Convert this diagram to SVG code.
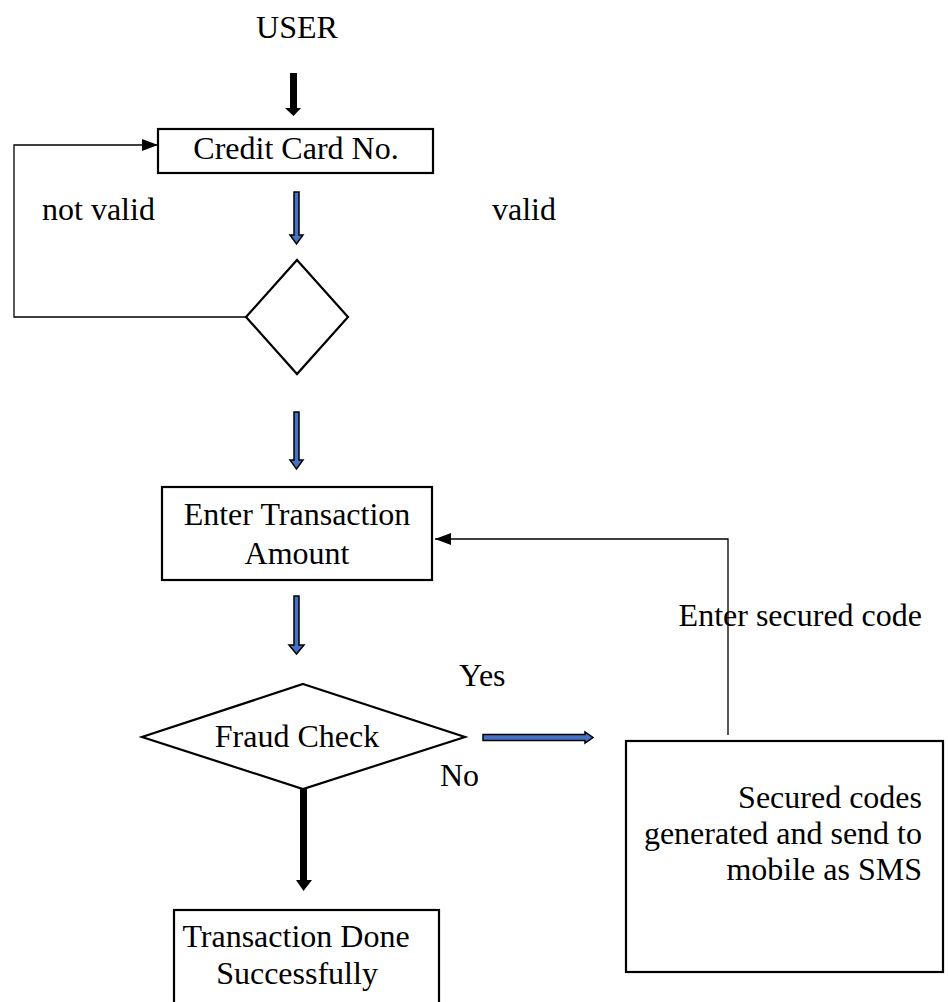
<svg xmlns="http://www.w3.org/2000/svg" width="948" height="1002" viewBox="0 0 948 1002">
<defs>
<style>
text{font-family:"Liberation Serif","Times New Roman",serif;font-size:32px;fill:#000}
.c{text-anchor:middle}
.r{text-anchor:end}
.box{fill:#fff;stroke:#000;stroke-width:2.2}
.thin{fill:none;stroke:#000;stroke-width:1.3}
.blue{fill:#4472C4;stroke:#000;stroke-width:1.5;stroke-linejoin:miter}
.blk{fill:#000}
</style>
<marker id="ah" markerUnits="userSpaceOnUse" markerWidth="16" markerHeight="12" refX="16" refY="6" orient="auto">
<path d="M0,0 L16,6 L0,12 Z" fill="#000"/>
</marker>
</defs>
<rect width="948" height="1002" fill="#fff"/>

<g id="user"><text class="c" x="297" y="38">USER</text></g>

<g id="credit-card">
<rect class="box" x="158" y="129" width="275" height="44"/>
<text class="c" x="296" y="159">Credit Card No.</text>
</g>

<g id="valid-check">
<polygon class="box" points="297,260 348,317 297,374 246,317"/>
</g>

<g id="enter-amount">
<rect class="box" x="162" y="487" width="270" height="93"/>
<text class="c" x="297" y="525">Enter Transaction</text>
<text class="c" x="297" y="564">Amount</text>
</g>

<g id="fraud-check">
<polygon class="box" points="303,684 465,737 303,789 142,737"/>
<text class="c" x="297" y="747">Fraud Check</text>
</g>

<g id="done">
<rect class="box" x="174" y="910" width="265" height="110"/>
<text class="c" x="296" y="947">Transaction Done</text>
<text class="c" x="297" y="984">Successfully</text>
</g>

<g id="sms">
<rect class="box" x="626" y="741" width="317" height="231"/>
<text class="r" x="922" y="808">Secured codes</text>
<text class="r" x="922" y="844">generated and send to</text>
<text class="r" x="922" y="880">mobile as SMS</text>
</g>

<g id="connectors">
<polygon class="blk" points="290,73 297,73 297,108 301,108 293.5,116 285,108 290,108"/>
<polygon class="blue" points="294,192 299,192 299,235 303,235 296.5,244 290,235 294,235"/>
<path class="thin" d="M246,317 H14 V145 H158" marker-end="url(#ah)"/>
<polygon class="blue" points="294,412 299,412 299,460 303,460 296.5,469 290,460 294,460"/>
<path class="thin" d="M728,735 V539 H435" marker-end="url(#ah)"/>
<polygon class="blue" points="294,596 299,596 299,645 304,645 296.5,654 289,645 294,645"/>
<polygon class="blue" points="483,734.5 585,734.5 585,732 593,737.5 585,743 585,740.5 483,740.5"/>
<polygon class="blk" points="300,788 307,788 307,880 312,880 303.5,891 296,880 300,880"/>
<text x="42" y="220">not valid</text>
<text x="492" y="220">valid</text>
<text class="r" x="922" y="626">Enter secured code</text>
<text x="459" y="686">Yes</text>
<text x="440" y="786">No</text>
</g>
</svg>
